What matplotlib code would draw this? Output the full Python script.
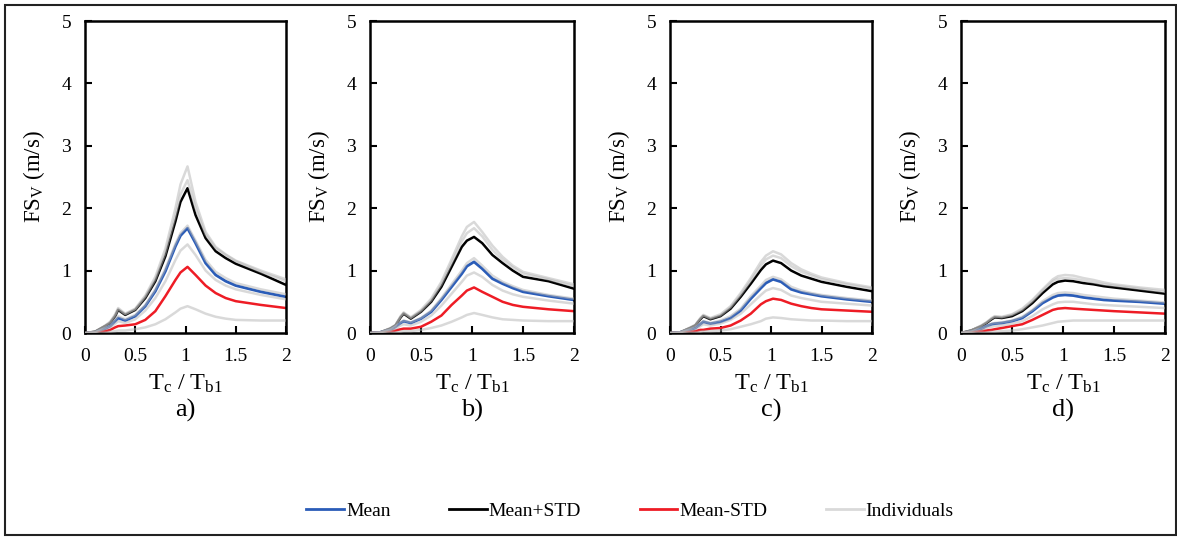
import matplotlib
matplotlib.use("Agg")
import matplotlib.pyplot as plt
from matplotlib.lines import Line2D
from matplotlib.patches import Rectangle

plt.rcParams['font.family'] = ['Liberation Serif', 'DejaVu Serif']
plt.rcParams['mathtext.fontset'] = 'custom'
plt.rcParams['mathtext.rm'] = 'Liberation Serif'
plt.rcParams['mathtext.it'] = 'Liberation Serif:italic'

# ---------------- data ----------------
period_ratio = [0, 0.1, 0.2, 0.25, 0.3, 0.33, 0.4, 0.5, 0.6, 0.7, 0.8, 0.9,
                0.95, 1.02, 1.1, 1.2, 1.3, 1.4, 1.5, 1.75, 2.0]

panel_labels = ['a)', 'b)', 'c)', 'd)']
x_ticks = [0, 0.5, 1, 1.5, 2]
x_tick_labels = ['0', '0.5', '1', '1.5', '2']
y_ticks = [0, 1, 2, 3, 4, 5]
y_tick_labels = ['0', '1', '2', '3', '4', '5']

# panel a
mean_a = [0, 0.01, 0.07, 0.11, 0.19, 0.24, 0.20, 0.27, 0.43, 0.67, 0.99, 1.39, 1.56, 1.68, 1.44, 1.12, 0.93, 0.83, 0.76, 0.66, 0.58]
plus_a = [0, 0.02, 0.11, 0.16, 0.27, 0.37, 0.29, 0.37, 0.56, 0.83, 1.23, 1.79, 2.10, 2.32, 1.89, 1.52, 1.31, 1.20, 1.11, 0.95, 0.77]
minus_a = [0, 0.0, 0.03, 0.05, 0.09, 0.11, 0.12, 0.14, 0.21, 0.35, 0.59, 0.85, 0.97, 1.06, 0.93, 0.76, 0.64, 0.56, 0.51, 0.45, 0.40]
ind_a1 = [0, 0.02, 0.12, 0.18, 0.30, 0.40, 0.31, 0.39, 0.60, 0.90, 1.35, 2.00, 2.38, 2.67, 2.10, 1.62, 1.38, 1.26, 1.16, 1.00, 0.86]
ind_a2 = [0, 0.02, 0.11, 0.17, 0.28, 0.38, 0.30, 0.38, 0.58, 0.86, 1.28, 1.88, 2.22, 2.45, 2.00, 1.58, 1.36, 1.25, 1.15, 0.98, 0.83]
ind_a3 = [0, 0.01, 0.08, 0.12, 0.21, 0.27, 0.22, 0.29, 0.45, 0.70, 1.03, 1.43, 1.60, 1.72, 1.48, 1.17, 0.98, 0.88, 0.80, 0.70, 0.62]
ind_a4 = [0, 0.01, 0.06, 0.09, 0.15, 0.19, 0.16, 0.22, 0.36, 0.56, 0.83, 1.17, 1.32, 1.42, 1.25, 1.00, 0.85, 0.76, 0.70, 0.61, 0.54]
ind_a5 = [0, 0.0, 0.01, 0.02, 0.03, 0.04, 0.04, 0.06, 0.09, 0.14, 0.22, 0.33, 0.39, 0.43, 0.38, 0.31, 0.26, 0.23, 0.21, 0.20, 0.20]

# panel b
mean_b = [0, 0.01, 0.05, 0.10, 0.16, 0.19, 0.16, 0.23, 0.34, 0.53, 0.74, 0.95, 1.07, 1.14, 1.03, 0.87, 0.79, 0.72, 0.66, 0.59, 0.53]
plus_b = [0, 0.01, 0.07, 0.12, 0.25, 0.31, 0.23, 0.34, 0.50, 0.74, 1.06, 1.38, 1.48, 1.54, 1.44, 1.25, 1.12, 1.00, 0.90, 0.83, 0.71]
minus_b = [0, 0.0, 0.02, 0.04, 0.06, 0.07, 0.07, 0.10, 0.18, 0.28, 0.45, 0.60, 0.68, 0.73, 0.66, 0.58, 0.50, 0.45, 0.42, 0.38, 0.35]
ind_b1 = [0, 0.01, 0.08, 0.13, 0.27, 0.33, 0.25, 0.37, 0.55, 0.82, 1.18, 1.55, 1.70, 1.78, 1.62, 1.40, 1.22, 1.08, 0.98, 0.88, 0.78]
ind_b2 = [0, 0.01, 0.07, 0.12, 0.26, 0.32, 0.24, 0.35, 0.52, 0.78, 1.12, 1.47, 1.60, 1.68, 1.55, 1.33, 1.17, 1.05, 0.95, 0.86, 0.75]
ind_b3 = [0, 0.01, 0.05, 0.10, 0.17, 0.20, 0.17, 0.24, 0.36, 0.56, 0.78, 1.00, 1.12, 1.20, 1.08, 0.92, 0.82, 0.75, 0.69, 0.61, 0.55]
ind_b4 = [0, 0.0, 0.04, 0.07, 0.12, 0.14, 0.12, 0.18, 0.28, 0.44, 0.63, 0.82, 0.92, 0.97, 0.90, 0.77, 0.68, 0.62, 0.58, 0.52, 0.47]
ind_b5 = [0, 0.0, 0.01, 0.01, 0.02, 0.03, 0.03, 0.05, 0.08, 0.12, 0.18, 0.25, 0.29, 0.32, 0.29, 0.25, 0.22, 0.21, 0.20, 0.19, 0.19]

# panel c
mean_c = [0, 0.01, 0.05, 0.08, 0.14, 0.18, 0.15, 0.18, 0.24, 0.36, 0.55, 0.72, 0.80, 0.86, 0.82, 0.70, 0.65, 0.62, 0.59, 0.54, 0.50]
plus_c = [0, 0.01, 0.08, 0.12, 0.22, 0.27, 0.22, 0.27, 0.39, 0.58, 0.79, 1.01, 1.10, 1.16, 1.12, 1.00, 0.92, 0.87, 0.82, 0.74, 0.67]
minus_c = [0, 0.0, 0.02, 0.03, 0.05, 0.05, 0.07, 0.08, 0.12, 0.20, 0.31, 0.46, 0.51, 0.55, 0.53, 0.47, 0.43, 0.40, 0.38, 0.36, 0.34]
ind_c1 = [0, 0.01, 0.09, 0.13, 0.24, 0.29, 0.24, 0.30, 0.43, 0.64, 0.88, 1.14, 1.24, 1.31, 1.26, 1.12, 1.02, 0.95, 0.89, 0.80, 0.73]
ind_c2 = [0, 0.01, 0.08, 0.12, 0.23, 0.28, 0.23, 0.28, 0.41, 0.61, 0.84, 1.08, 1.18, 1.24, 1.20, 1.07, 0.98, 0.92, 0.86, 0.78, 0.71]
ind_c3 = [0, 0.01, 0.06, 0.09, 0.15, 0.19, 0.16, 0.20, 0.27, 0.39, 0.59, 0.76, 0.85, 0.90, 0.86, 0.74, 0.68, 0.64, 0.61, 0.56, 0.52]
ind_c4 = [0, 0.0, 0.04, 0.06, 0.11, 0.14, 0.12, 0.15, 0.21, 0.31, 0.46, 0.61, 0.68, 0.72, 0.69, 0.60, 0.56, 0.53, 0.50, 0.47, 0.44]
ind_c5 = [0, 0.0, 0.01, 0.01, 0.02, 0.03, 0.03, 0.04, 0.06, 0.10, 0.14, 0.19, 0.23, 0.25, 0.24, 0.22, 0.21, 0.20, 0.20, 0.19, 0.19]

# panel d
mean_d = [0, 0.02, 0.07, 0.11, 0.14, 0.15, 0.16, 0.19, 0.24, 0.35, 0.48, 0.57, 0.60, 0.61, 0.60, 0.57, 0.55, 0.53, 0.52, 0.50, 0.47]
plus_d = [0, 0.04, 0.11, 0.16, 0.22, 0.25, 0.24, 0.27, 0.35, 0.48, 0.64, 0.78, 0.82, 0.84, 0.83, 0.80, 0.78, 0.75, 0.73, 0.68, 0.63]
minus_d = [0, 0.01, 0.03, 0.04, 0.05, 0.06, 0.08, 0.11, 0.14, 0.21, 0.29, 0.37, 0.39, 0.40, 0.39, 0.38, 0.37, 0.36, 0.35, 0.33, 0.31]
ind_d1 = [0, 0.04, 0.12, 0.17, 0.24, 0.27, 0.26, 0.30, 0.39, 0.53, 0.70, 0.86, 0.91, 0.93, 0.92, 0.88, 0.85, 0.81, 0.78, 0.73, 0.69]
ind_d2 = [0, 0.04, 0.12, 0.17, 0.23, 0.26, 0.25, 0.29, 0.37, 0.51, 0.68, 0.83, 0.87, 0.88, 0.87, 0.84, 0.81, 0.78, 0.76, 0.71, 0.66]
ind_d3 = [0, 0.02, 0.08, 0.11, 0.15, 0.16, 0.17, 0.20, 0.26, 0.37, 0.51, 0.61, 0.64, 0.65, 0.64, 0.61, 0.59, 0.57, 0.55, 0.52, 0.49]
ind_d4 = [0, 0.01, 0.05, 0.08, 0.10, 0.11, 0.12, 0.15, 0.19, 0.27, 0.38, 0.46, 0.49, 0.50, 0.50, 0.48, 0.46, 0.45, 0.44, 0.42, 0.40]
ind_d5 = [0, 0.0, 0.01, 0.01, 0.02, 0.02, 0.03, 0.04, 0.06, 0.09, 0.12, 0.16, 0.18, 0.19, 0.20, 0.20, 0.20, 0.20, 0.20, 0.20, 0.20]

panels = [
    (mean_a, plus_a, minus_a, [ind_a1, ind_a2, ind_a3, ind_a4, ind_a5]),
    (mean_b, plus_b, minus_b, [ind_b1, ind_b2, ind_b3, ind_b4, ind_b5]),
    (mean_c, plus_c, minus_c, [ind_c1, ind_c2, ind_c3, ind_c4, ind_c5]),
    (mean_d, plus_d, minus_d, [ind_d1, ind_d2, ind_d3, ind_d4, ind_d5]),
]

# ---------------- styling / layout ----------------
W, H = 1177, 538
C_MEAN = '#2a5cb8'
C_PLUS = '#000000'
C_MINUS = '#ee1c25'
C_IND = '#b4b4b4'

fig = plt.figure(figsize=(W / 100, H / 100), dpi=100)

# outer frame
fig.patches.append(Rectangle((5 / W, 3 / H), (1171 / W), (530 / H), transform=fig.transFigure,
                             fill=False, edgecolor='#222222', linewidth=1.5))

axes_px = [(85, 286), (370, 574), (670, 872), (961, 1165)]
top_px, bot_px = 21, 333

for (l, r), lab, (mean, plus, minus, inds) in zip(axes_px, panel_labels, panels):
    ax = fig.add_axes([l / W, 1 - bot_px / H, (r - l) / W, (bot_px - top_px) / H])
    ax.plot(period_ratio, plus, color=C_PLUS, lw=1.8, zorder=2)
    ax.plot(period_ratio, mean, color=C_MEAN, lw=2.0, zorder=2)
    ax.plot(period_ratio, minus, color=C_MINUS, lw=1.8, zorder=2)
    for s in inds:
        ax.plot(period_ratio, s, color=C_IND, lw=1.8, alpha=0.5, zorder=3)
    ax.set_xlim(0, 2)
    ax.set_ylim(0, 5)
    ax.set_xticks(x_ticks)
    ax.set_xticklabels(x_tick_labels)
    ax.set_yticks(y_ticks)
    ax.set_yticklabels(y_tick_labels)
    ax.tick_params(direction='in', length=5, width=1.5, labelsize=14, pad=10)
    ax.tick_params(axis='x', pad=11)
    for sp in ax.spines.values():
        sp.set_linewidth(1.8)
    ax.set_ylabel(r'FS$_\mathrm{V}$ (m/s)', fontsize=16.5, labelpad=10)
    ax.set_xlabel(r'T$_\mathrm{c}$ / T$_\mathrm{b1}$', fontsize=17.5, labelpad=5)
    fig.text((l + r) / 2 / W, 1 - 410 / H, lab, ha='center', va='center', fontsize=19)

handles = [Line2D([], [], color=C_MEAN, lw=2.0),
           Line2D([], [], color=C_PLUS, lw=2.0),
           Line2D([], [], color=C_MINUS, lw=2.0),
           Line2D([], [], color='#d9d9d9', lw=2.0)]
fig.legend(handles, ['Mean', 'Mean+STD', 'Mean-STD', 'Individuals'],
           loc='center', bbox_to_anchor=(630 / W, 1 - 511 / H), ncol=4,
           frameon=False, fontsize=14, handlelength=1.95, handletextpad=0.1,
           columnspacing=3.0)

fig.savefig('out.png', dpi=100)
